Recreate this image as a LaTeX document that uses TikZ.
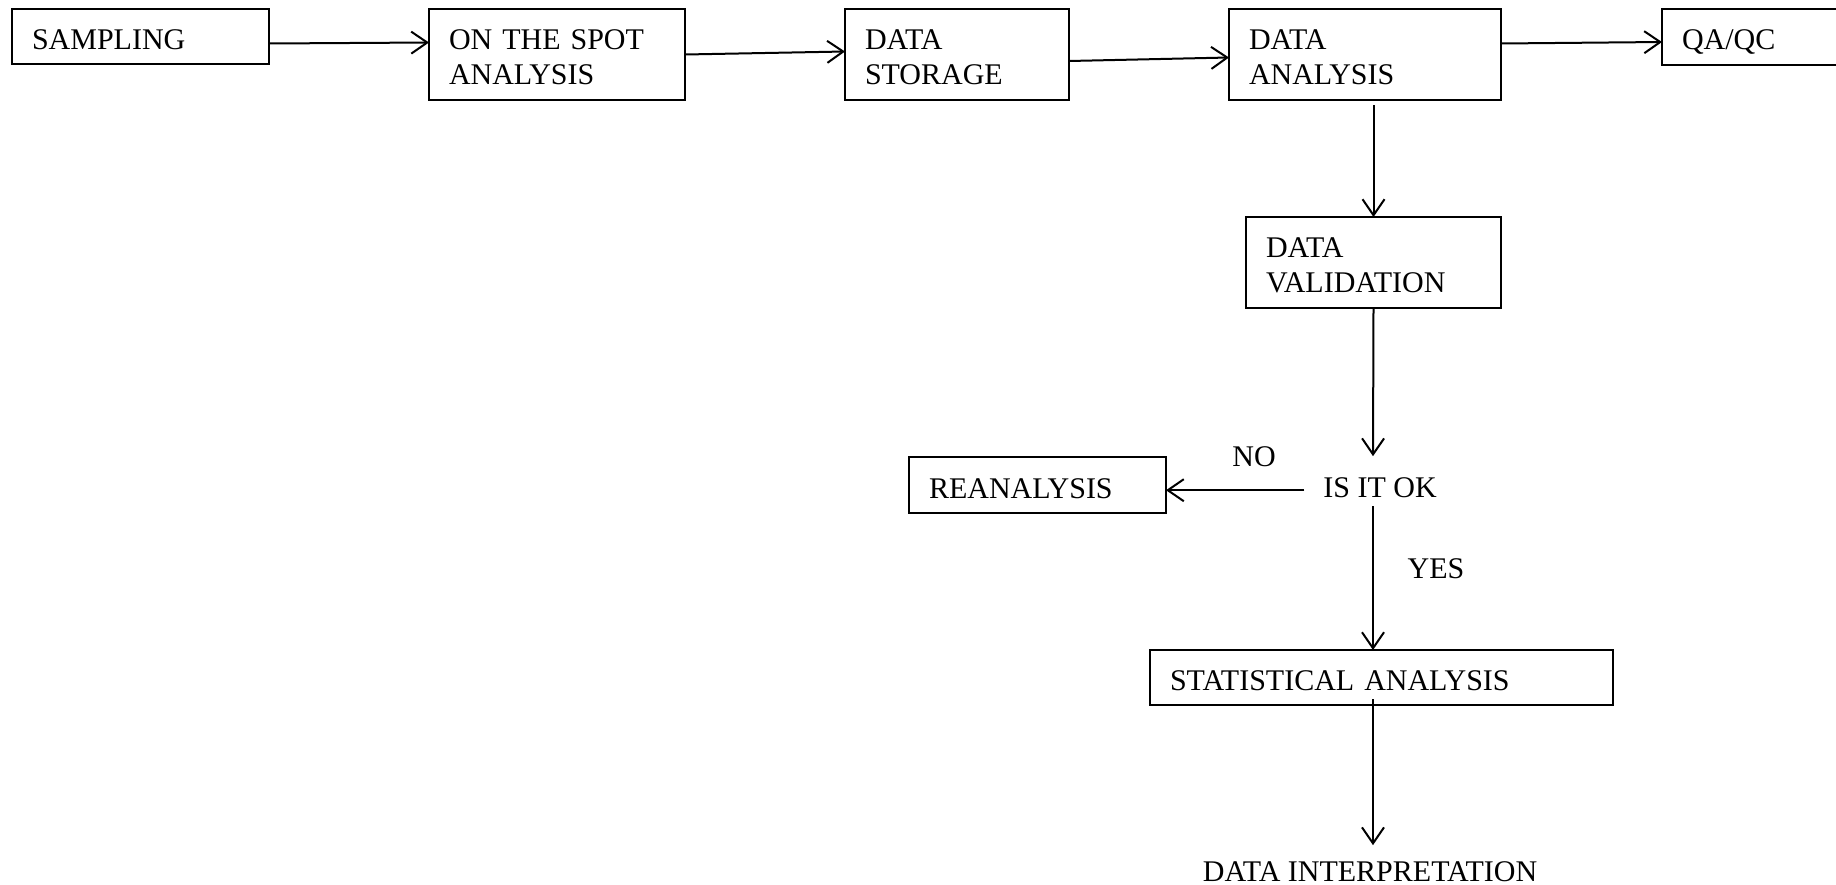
\documentclass[tikz,border=0pt]{standalone}
\usepackage{fontspec}
\setmainfont{Liberation Serif}
\usetikzlibrary{arrows.meta}
\newcommand{\fs}{\fontsize{30}{35}\selectfont}
\begin{document}
\begin{tikzpicture}[x=1pt,y=-1pt,
  box/.style={draw, line width=2pt, outer sep=0pt, inner xsep=20pt, inner ysep=0pt, align=left, anchor=north west, font=\fs},
  one/.style={text height=40pt, text depth=15pt},
  two/.style={text height=40.5pt, text depth=50.5pt},
  lbl/.style={inner sep=0pt, outer sep=0pt, anchor=base, font=\fs},
  conn/.style={line width=2pt, -{Straight Barb[length=16pt,width=22pt]}}]
\useasboundingbox (0,0) rectangle (1836,884);
\clip (0,0) rectangle (1836,884);
% boxes
\node[box, one, text width=217pt] (sampling) at (12,9) {SAMPLING};
\node[box, two, text width=216pt] (onspot) at (429,9) {ON THE SPOT\\ANALYSIS};
\node[box, two, text width=184pt] (storage) at (845,9) {DATA\\STORAGE};
\node[box, two, text width=232pt] (analysis) at (1229,9) {DATA\\ANALYSIS};
\node[box, one, text width=198pt, text height=40.5pt, text depth=15.5pt] (qaqc) at (1662,9) {QA/QC};
\node[box, two, text width=215pt] (validation) at (1246,217) {DATA\\VALIDATION};
\node[box, one, text width=217pt, text height=41pt, text depth=15pt] (reanalysis) at (909,457) {REANALYSIS};
\node[box, one, text width=423pt, text height=40pt, text depth=15pt] (stat) at (1150,650) {STATISTICAL ANALYSIS};
% text nodes
\node[lbl] (isok) at (1380,497) {IS IT OK};
\node[lbl] (no) at (1254,466) {NO};
\node[lbl] (yes) at (1436,578) {YES};
\node[lbl] (interp) at (1370,881) {DATA INTERPRETATION};
% connectors
\draw[conn] ([yshift=-7pt]sampling.east) -- ([yshift=12pt]onspot.west);
\draw[conn] (onspot.east) -- ([yshift=3pt]storage.west);
\draw[conn] ([yshift=-6.5pt]storage.east) -- ([yshift=-3pt]analysis.west);
\draw[conn] ([yshift=11pt]analysis.east) -- ([yshift=-5pt]qaqc.west);
\draw[conn] ([xshift=8.5pt,yshift=-5pt]analysis.south) -- (validation.north);
\draw[conn] (validation.south) -- ([xshift=-7pt,yshift=21pt]isok.north);
\draw[conn] ([xshift=-19pt,yshift=-3pt]isok.west) coordinate (nostart) -- (nostart -| reanalysis.east);
\draw[conn] ([xshift=-7pt,yshift=-9pt]isok.south) -- ([xshift=-8.5pt]stat.north);
\draw[conn] ([xshift=-8.5pt,yshift=6pt]stat.south) -- ([xshift=3pt,yshift=16pt]interp.north);
\end{tikzpicture}
\end{document}
